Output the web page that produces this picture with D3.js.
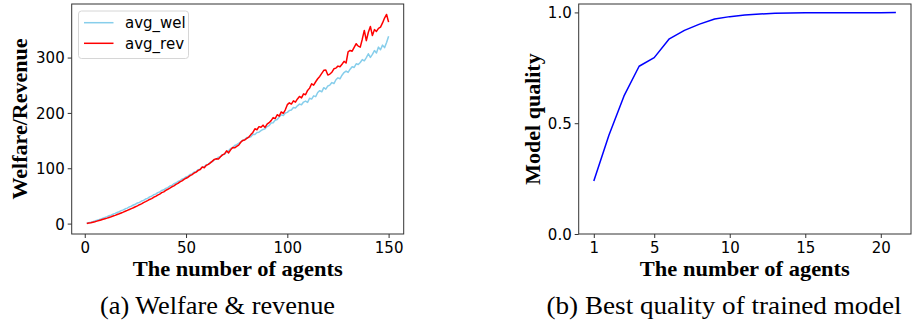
<!DOCTYPE html>
<html>
<head>
<meta charset="utf-8">
<script src="https://cdn.jsdelivr.net/npm/d3@7"></script>
<style>
html,body{margin:0;padding:0;background:#fff;}
svg{display:block;}
.tick text{font-family:"DejaVu Sans",sans-serif;font-size:15px;fill:#000;}
.tick line{stroke:#333;stroke-width:1;}
</style>
</head>
<body>
<svg id="chart" width="912" height="326"></svg>
<script>
// ---- Data: panel (a) ----
const agentsA = d3.range(1, 151);
const avgWel = [
0.5,1.6,2.5,3.6,4.8,5.9,7.2,8.3,9.9,11.2,
12.4,14.1,15.3,17.0,18.4,20.1,21.5,23.4,24.8,26.7,
28.0,30.2,31.4,33.6,35.0,37.2,38.4,40.8,42.0,44.4,
45.6,48.3,49.4,52.1,53.2,56.0,57.1,59.9,61.0,63.6,
65.0,67.9,69.1,72.0,73.2,76.1,77.3,80.2,81.6,84.3,
85.6,88.9,89.8,93.1,94.2,97.5,98.4,101.9,102.8,106.3,
107.2,111.0,112.0,115.6,116.2,120.1,121.0,124.6,125.3,129.2,
131.8,135.9,136.4,141.2,142.5,145.1,147.8,150.2,152.0,155.6,
156.2,157.0,161.4,160.9,164.5,165.2,167.8,170.1,171.2,175.3,
177.0,181.6,182.1,186.9,188.0,192.4,196.5,195.3,199.8,201.0,
204.5,205.2,209.6,209.0,212.8,215.9,214.7,219.6,221.3,219.0,
226.5,225.0,230.8,229.4,236.9,240.2,238.1,245.6,243.0,248.7,
250.3,254.8,253.1,259.9,263.4,261.7,268.2,272.9,275.5,273.3,
279.0,283.5,282.2,288.7,287.4,291.0,296.3,294.1,299.8,306.9,
300.2,305.8,312.6,308.3,318.9,314.2,322.5,318.0,327.4,338.5
];
const avgRev = [
0.1,0.9,1.7,2.6,3.5,4.5,5.5,6.6,7.7,8.8,
9.9,11.1,12.3,13.6,14.9,16.3,17.7,19.2,20.7,22.3,
23.8,25.4,27.1,28.6,30.5,32.0,34.1,35.7,37.9,39.6,
41.5,43.6,45.2,47.6,49.1,51.5,53.2,55.9,57.4,60.1,
62.0,64.1,66.5,68.2,70.9,72.6,75.4,77.1,79.9,82.0,
83.8,86.6,88.5,91.4,93.0,96.1,97.8,102.4,100.9,105.3,
107.0,109.8,112.9,116.0,117.1,116.8,120.9,124.2,126.0,131.5,
127.8,133.2,137.6,136.9,139.5,141.8,146.9,150.3,151.2,153.9,
156.4,160.8,164.7,171.3,169.6,175.2,174.0,177.9,173.8,179.6,
182.4,186.1,191.5,189.8,196.7,194.2,201.8,199.3,205.6,214.9,
218.2,216.0,221.7,219.4,225.3,229.8,227.1,234.5,232.9,240.6,
244.8,252.6,250.1,256.3,261.8,266.0,271.5,276.9,277.6,268.4,
270.2,273.5,279.7,281.0,284.6,283.3,287.9,293.1,290.2,310.5,
312.8,311.5,318.4,325.1,320.7,318.9,333.2,349.0,330.6,345.8,
356.3,339.7,350.5,347.2,352.8,355.1,362.6,371.4,377.9,364.0
];
const ticksAx = [0, 50, 100, 150];
const ticksAy = [0, 100, 200, 300];

// ---- Data: panel (b) ----
const agentsB = [1,2,3,4,5,6,7,8,9,10,11,12,13,14,15,16,17,18,19,20,21];
const quality = [0.239,0.446,0.623,0.757,0.796,0.881,0.919,0.947,0.970,0.981,0.988,0.993,0.996,0.997,0.998,0.998,0.999,0.999,0.999,0.999,1.0];
const ticksBx = [1, 5, 10, 15, 20];
const ticksBy = [0.0, 0.5, 1.0];

const svg = d3.select("#chart");

function panel(o) {
  const g = svg.append("g");
  const x = d3.scaleLinear().domain(o.xd).range([o.x0, o.x1]);
  const y = d3.scaleLinear().domain(o.yd).range([o.y1, o.y0]);

  o.series.forEach(s => {
    g.append("path")
      .datum(s.values)
      .attr("fill", "none")
      .attr("stroke", s.color)
      .attr("stroke-width", 1.5)
      .attr("stroke-linejoin", "round")
      .attr("d", d3.line().x((d, i) => x(o.xs[i])).y(d => y(d)));
  });

  const ax = g.append("g").attr("transform", `translate(0,${o.y1})`)
    .call(d3.axisBottom(x).tickValues(o.xt).tickSize(4).tickPadding(4).tickFormat(o.xf || d3.format("d")));
  ax.select(".domain").remove();
  const ay = g.append("g").attr("transform", `translate(${o.x0},0)`)
    .call(d3.axisLeft(y).tickValues(o.yt).tickSize(4).tickPadding(3).tickFormat(o.yf || d3.format("d")));
  ay.select(".domain").remove();
  ay.selectAll(".tick text").attr("dy", "0.36em");

  g.append("rect")
    .attr("x", o.x0).attr("y", o.y0)
    .attr("width", o.x1 - o.x0).attr("height", o.y1 - o.y0)
    .attr("fill", "none").attr("stroke", "#333").attr("stroke-width", 1);

  g.append("text")
    .attr("x", (o.x0 + o.x1) / 2).attr("y", 275.5)
    .attr("text-anchor", "middle")
    .attr("textLength", 210).attr("lengthAdjust", "spacingAndGlyphs")
    .style("font-family", "'Liberation Serif','Times New Roman',serif")
    .style("font-weight", "bold").style("font-size", "21px")
    .text(o.xlabel);

  g.append("text")
    .attr("transform", `translate(${o.ylx},${(o.y0 + o.y1) / 2}) rotate(-90)`)
    .attr("text-anchor", "middle")
    .style("font-family", "'Liberation Serif','Times New Roman',serif")
    .style("font-weight", "bold").style("font-size", "22px")
    .text(o.ylabel);

  g.append("text")
    .attr("x", o.capx).attr("y", 314)
    .attr("text-anchor", "middle")
    .attr("textLength", o.capw).attr("lengthAdjust", "spacingAndGlyphs")
    .style("font-family", "'Liberation Serif','Times New Roman',serif")
    .style("font-size", "25px")
    .text(o.caption);
  return {g, x, y};
}

const A = panel({
  x0: 71.7, x1: 403.7, y0: 4, y1: 234,
  xd: [-6.45, 157.45], yd: [-18.8, 396.8],
  xs: agentsA,
  series: [{values: avgWel, color: "#87CEEB"}, {values: avgRev, color: "#FF0000"}],
  xt: ticksAx, yt: ticksAy,
  xlabel: "The number of agents", ylabel: "Welfare/Revenue", ylx: 27,
  caption: "(a) Welfare & revenue", capx: 217.5, capw: 235
});

// legend
const lg = A.g.append("g");
lg.append("rect").attr("x", 78.5).attr("y", 11).attr("width", 110).attr("height", 47.5)
  .attr("rx", 3).attr("fill", "#fff").attr("fill-opacity", 0.8).attr("stroke", "#d6d6d6");
[["avg_wel", "#87CEEB", 22.7], ["avg_rev", "#FF0000", 43.3]].forEach(([t, c, yy]) => {
  lg.append("line").attr("x1", 84).attr("x2", 113.5).attr("y1", yy).attr("y2", yy)
    .attr("stroke", c).attr("stroke-width", 1.5);
  lg.append("text").attr("x", 125).attr("y", yy + 5.5)
    .style("font-family", "'DejaVu Sans',sans-serif").style("font-size", "15px")
    .text(t);
});

panel({
  x0: 578.7, x1: 911, y0: 4, y1: 234,
  xd: [0, 22], yd: [0, 1.038],
  xs: agentsB,
  series: [{values: quality, color: "#0000FF"}],
  xt: ticksBx, yt: ticksBy, yf: d3.format(".1f"),
  xlabel: "The number of agents", ylabel: "Model quality", ylx: 539.5,
  caption: "(b) Best quality of trained model", capx: 724, capw: 355
});
</script>
</body>
</html>
